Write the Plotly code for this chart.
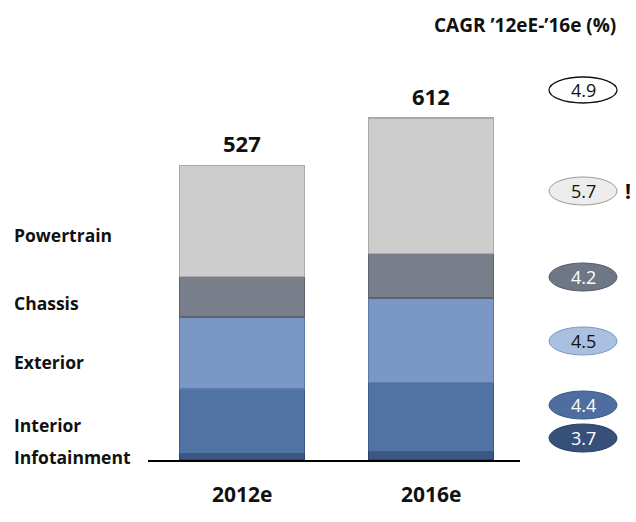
import plotly.graph_objects as go

# Data
years = ["2012e", "2016e"]
segments = ["Infotainment", "Interior", "Exterior", "Chassis", "Powertrain"]
infotainment = [12, 15]
interior = [115, 124]
exterior = [129, 151]
chassis = [72, 79]
powertrain = [199, 243]
totals = [527, 612]
cagr_total = "4.9"
cagr_labels = ["3.7", "4.4", "4.5", "4.2", "5.7"]  # same order as segments

FONT = "'Open Sans', Lato, sans-serif"
seg_colors = ["#3b5783", "#5073a3", "#7a97c5", "#787f8b", "#cdcdcd"]
seg_lines = ["#2c4266", "#3d5a84", "#5d7aa8", "#5c636e", "#a9a9a9"]
series = [infotainment, interior, exterior, chassis, powertrain]

xpos = [0, 1]

fig = go.Figure()
for name, vals, col, lc in zip(segments, series, seg_colors, seg_lines):
    fig.add_trace(go.Bar(
        x=xpos, y=vals, name=name, width=0.66,
        marker=dict(color=col, line=dict(color=lc, width=1.5)),
        hoverinfo="name+y",
    ))

annotations = []
# totals above bars
for x, t in zip(xpos, totals):
    annotations.append(dict(x=x, y=t, xref="x", yref="y", text=f"<b>{t}</b>",
                            showarrow=False, yanchor="bottom", yshift=5,
                            font=dict(size=22, color="#111111", family=FONT)))
# year labels under the axis
for x, yr in zip(xpos, years):
    annotations.append(dict(x=x, y=0, xref="x", yref="y", text=f"<b>{yr}</b>",
                            showarrow=False, yanchor="middle", yshift=-34,
                            font=dict(size=21, color="#111111", family=FONT)))

# segment labels on the left (pixel rows; plot spans y 60..460, x 148..520)
label_rows = {"Infotainment": 457, "Interior": 425, "Exterior": 362,
              "Chassis": 303, "Powertrain": 235}
for name in segments:
    py = label_rows[name]
    annotations.append(dict(x=(12 - 148) / 372, y=(460 - py) / 400, xref="paper", yref="paper",
                            text=f"<b>{name}</b>", showarrow=False,
                            xanchor="left", yanchor="middle",
                            font=dict(size=17.5, color="#111111", family=FONT)))

# CAGR column
annotations.append(dict(x=(618 - 148) / 372, y=(460 - 25) / 400, xref="paper", yref="paper",
                        text="<b>CAGR ’12eE-’16e (%)</b>", showarrow=False,
                        xanchor="right", yanchor="middle",
                        font=dict(size=19, color="#111111", family=FONT)))

bx = (583 - 148) / 372
bubble_rows = [438, 405, 341, 277, 191]
bubble_fill = ["#36507a", "#4d6e9f", "#a9c0e0", "#6e7785", "#ececec"]
bubble_line = ["#2a3f60", "#3b5a84", "#7d98bf", "#555c68", "#9a9a9a"]
bubble_text = ["white", "white", "#111111", "white", "#111111"]

shapes = []
def add_bubble(py, fill, line, txt, tcol, lw=1, h=14):
    yc = (460 - py) / 400
    shapes.append(dict(type="circle", xref="paper", yref="paper",
                       xsizemode="pixel", ysizemode="pixel",
                       xanchor=bx, yanchor=yc, x0=-34, x1=34, y0=-h, y1=h,
                       fillcolor=fill, line=dict(color=line, width=lw), layer="above"))
    annotations.append(dict(x=bx, y=yc, xref="paper", yref="paper", text=txt,
                            showarrow=False, xanchor="center", yanchor="middle",
                            font=dict(size=18, color=tcol, family=FONT)))

add_bubble(90, "white", "#111111", cagr_total, "#111111", lw=1.3, h=13)
for py, f, l, txt, tc in zip(bubble_rows, bubble_fill, bubble_line, cagr_labels, bubble_text):
    add_bubble(py, f, l, txt, tc)

annotations.append(dict(x=(628 - 148) / 372, y=(460 - 191) / 400, xref="paper", yref="paper",
                        text="<b>!</b>", showarrow=False, xanchor="center", yanchor="middle",
                        font=dict(size=21, color="#111111", family=FONT)))

fig.update_layout(
    barmode="stack",
    width=636, height=522,
    margin=dict(l=148, r=116, t=60, b=62),
    paper_bgcolor="white", plot_bgcolor="white",
    showlegend=False,
    annotations=annotations,
    shapes=shapes,
    font=dict(family=FONT),
)
fig.update_xaxes(range=[-0.497, 1.471], showticklabels=False, showgrid=False,
                 zeroline=False, showline=True, linecolor="#000000", linewidth=2, ticks="")
fig.update_yaxes(range=[0, 715.6], visible=False, showgrid=False, zeroline=False)

# drop the default page margin so the figure sits at the window's top-left corner
fig.write_html("out.html", config={"displayModeBar": False},
               post_script="document.body.style.margin='0';document.body.style.overflow='hidden';")
